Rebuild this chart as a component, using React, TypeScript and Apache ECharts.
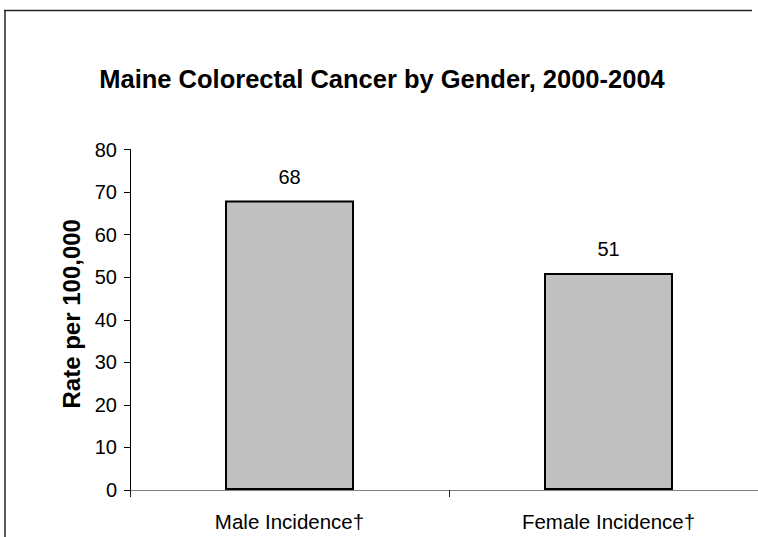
import React, { useEffect, useRef } from "react";
import * as echarts from "echarts";

const titleText = "Maine Colorectal Cancer by Gender, 2000-2004";
const categories = ["Male Incidence†", "Female Incidence†"];
const rates = [68, 51];
const yAxisName = "Rate per 100,000";

export default function App() {
  const ref = useRef<HTMLDivElement>(null);
  useEffect(() => {
    if (!ref.current) return;
    const chart = echarts.init(ref.current, null, { renderer: "svg" });
    const font = "'Liberation Sans', Arial, sans-serif";
    chart.setOption({
      animation: false,
      backgroundColor: "#ffffff",
      title: {
        text: titleText,
        left: 377,
        textAlign: "center",
        top: 61,
        textStyle: { fontFamily: font, fontSize: 25.5, fontWeight: "bold", color: "#000" },
      },
      graphic: [
        {
          type: "line",
          shape: { x1: 5, y1: 10, x2: 5, y2: 537 },
          style: { stroke: "#222", lineWidth: 1.5 },
          silent: true,
        },
        {
          type: "line",
          shape: { x1: 4.25, y1: 10.5, x2: 752, y2: 10.5 },
          style: { stroke: "#222", lineWidth: 1.5 },
          silent: true,
        },
      ],
      grid: { left: 130, right: 22, top: 149.5, bottom: 47 },
      xAxis: {
        type: "category",
        data: categories,
        axisLine: { lineStyle: { color: "#808080", width: 1.2 } },
        axisTick: { show: true, length: 7, lineStyle: { color: "#222" } },
        axisLabel: { fontFamily: font, fontSize: 20.5, color: "#000", margin: 21 },
      },
      yAxis: {
        type: "value",
        min: 0,
        max: 80,
        interval: 10,
        name: yAxisName,
        nameLocation: "middle",
        nameGap: 47,
        nameTextStyle: {
          fontFamily: font,
          fontSize: 24,
          fontWeight: "bold",
          color: "#000",
          padding: [0, 0, 0, 12],
        },
        axisLine: { show: true, lineStyle: { color: "#000", width: 1 } },
        axisTick: { show: true, length: 6, lineStyle: { color: "#000" } },
        axisLabel: { fontFamily: font, fontSize: 20, color: "#000", margin: 13 },
        splitLine: { show: false },
      },
      series: [
        {
          type: "bar",
          data: rates,
          barWidth: 129,
          itemStyle: { color: "#c0c0c0", borderColor: "#000", borderWidth: 2 },
          label: {
            show: true,
            position: "top",
            distance: 14,
            fontFamily: font,
            fontSize: 20,
            color: "#000",
          },
        },
      ],
    });
    return () => chart.dispose();
  }, []);
  return (
    <div style={{ width: 758, height: 537, position: "absolute", left: 0, top: 0, overflow: "hidden" }}>
      <div ref={ref} style={{ width: 790, height: 537 }} />
    </div>
  );
}
